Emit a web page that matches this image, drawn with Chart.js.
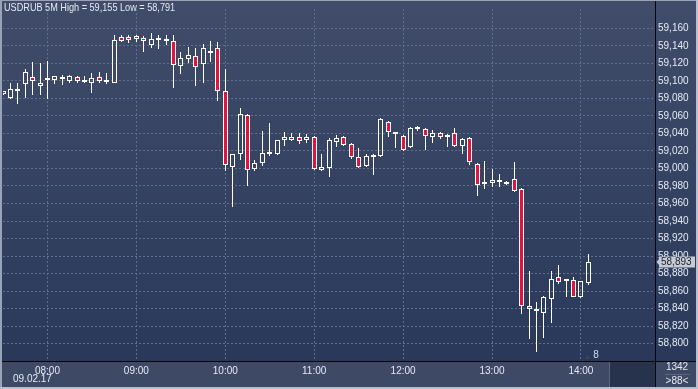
<!DOCTYPE html>
<html><head><meta charset="utf-8">
<script src="https://cdn.jsdelivr.net/npm/chart.js@4.4.1/dist/chart.umd.min.js"></script>
<style>html,body{margin:0;padding:0;background:#2e3c5c;overflow:hidden}#wrap{width:698px;height:389px;position:relative}</style>
</head><body><div id="wrap"><canvas id="c" width="698" height="389"></canvas></div>
<script>
// ---- DATA ----
const times = ['07:30','07:35','07:40','07:45','07:50','07:55',
'08:00','08:05','08:10','08:15','08:20','08:25','08:30','08:35','08:40','08:45','08:50','08:55',
'09:00','09:05','09:10','09:15','09:20','09:25','09:30','09:35','09:40','09:45','09:50','09:55',
'10:00','10:05','10:10','10:15','10:20','10:25','10:30','10:35','10:40','10:45','10:50','10:55',
'11:00','11:05','11:10','11:15','11:20','11:25','11:30','11:35','11:40','11:45','11:50','11:55',
'12:00','12:05','12:10','12:15','12:20','12:25','12:30','12:35','12:40','12:45','12:50','12:55',
'13:00','13:05','13:10','13:15','13:20','13:25','13:30','13:35','13:40','13:45','13:50','13:55',
'14:00','14:05','14:10','14:15','14:20','14:25','14:30','14:35','14:40','14:45','14:50'];
const opens = [59.085,59.080,59.089,59.096,59.104,59.094,59.101,59.101,59.102,59.100,
59.104,59.099,59.097,59.104,59.099,59.098,59.150,59.150,59.148,59.149,
59.141,59.147,59.146,59.145,59.117,59.125,59.128,59.119,59.132,59.137,
59.088,59.002,59.016,59.061,58.999,59.006,59.016,59.016,59.032,59.033,
59.036,59.032,59.036,58.998,59.000,59.030,59.036,59.028,59.013,59.003,
59.013,59.014,59.053,59.039,59.037,59.024,59.045,59.045,59.036,59.040,
59.036,59.040,59.026,59.035,59.005,58.982,58.983,58.985,58.982,58.988,
58.976,58.843,58.840,58.835,58.851,58.876,58.872,58.873,58.853,58.869];
const highs = [59.089,59.097,59.097,59.113,59.122,59.120,59.123,59.106,59.107,59.107,
59.106,59.106,59.109,59.110,59.109,59.152,59.152,59.152,59.152,59.151,
59.155,59.152,59.152,59.152,59.133,59.139,59.137,59.142,59.146,59.144,
59.114,59.017,59.069,59.062,59.010,59.043,59.052,59.032,59.042,59.040,
59.040,59.039,59.037,59.017,59.035,59.038,59.037,59.029,59.023,59.017,
59.016,59.058,59.054,59.040,59.038,59.047,59.049,59.046,59.044,59.042,
59.039,59.046,59.035,59.036,59.006,59.008,58.999,58.994,58.986,59.007,
58.978,58.883,58.847,58.854,58.883,58.890,58.873,58.876,58.872,58.902];
const lows = [59.084,59.079,59.074,59.081,59.084,59.084,59.079,59.096,59.095,59.097,
59.098,59.097,59.086,59.098,59.096,59.097,59.144,59.143,59.144,59.133,
59.138,59.136,59.141,59.092,59.108,59.120,59.094,59.097,59.122,59.077,
58.997,58.956,59.010,58.980,58.997,59.003,59.014,59.015,59.026,59.031,
59.028,59.029,58.998,58.997,58.990,59.025,59.026,59.011,59.001,59.002,
58.992,59.013,59.036,59.023,59.020,59.023,59.043,59.021,59.029,59.034,
59.025,59.025,59.016,59.004,58.968,58.976,58.979,58.979,58.981,58.973,
58.834,58.805,58.791,58.807,58.824,58.868,58.853,58.853,58.852,58.867];
const closes = [59.088,59.091,59.091,59.110,59.100,59.098,59.103,59.105,59.104,59.106,
59.100,59.099,59.103,59.100,59.100,59.147,59.145,59.147,59.151,59.146,
59.148,59.147,59.148,59.118,59.126,59.129,59.116,59.137,59.132,59.089,
59.004,59.017,59.062,58.998,59.006,59.018,59.019,59.032,59.036,59.036,
59.031,59.036,58.999,59.002,59.033,59.035,59.027,59.013,59.002,59.014,
59.013,59.056,59.042,59.039,59.021,59.046,59.045,59.037,59.041,59.036,
59.038,59.026,59.034,59.007,58.981,58.985,58.987,58.985,58.985,58.974,
58.843,58.839,58.837,58.853,58.874,58.870,58.872,58.853,58.871,58.893];
const yTicks = [58.80,58.82,58.84,58.86,58.88,58.90,58.92,58.94,58.96,58.98,59.00,59.02,59.04,59.06,59.08,59.10,59.12,59.14,59.16];
const titleText = 'USDRUB 5M High = 59,155 Low = 58,791';
const dateText = '09.02.17';
const lastPrice = 58.893;
const barsCount = '1342';
const visibleBars = '>88<';
const markerText = '8';

// ---- STYLE ----
const RED = '#e2143e';
const GRID = '#5e6e8f';
const TXT = '#e4eaf3';
const FONT = 'Liberation Sans, Arial, sans-serif';

const hourIdx = times.map((t,i)=>t.endsWith(':00')?i:-1).filter(i=>i>=0);
const bodyData = opens.map((o,i)=>[Math.min(o,closes[i]), Math.max(o,closes[i])]);
const upperWick = opens.map((o,i)=>[Math.max(o,closes[i]), highs[i]]);
const lowerWick = opens.map((o,i)=>[lows[i], Math.min(o,closes[i])]);
const bodyFill = opens.map((o,i)=> closes[i] < o ? RED : 'rgba(0,0,0,0)');
const fmt = v => v.toFixed(3).replace('.', ',');

// snap bar elements (positioned by the library's scales) to whole pixels for crisp candles
const snap = {
  id:'snap',
  beforeDatasetsDraw(chart){
    chart.data.datasets.forEach((ds, di) => {
      const meta = chart.getDatasetMeta(di);
      meta.data.forEach(el => {
        el.x = Math.floor(el.x) + 0.5;
        el.y = Math.round(el.y);
        el.base = Math.round(el.base);
      });
    });
  }
};

const decor = {
  id:'decor',
  beforeDraw(chart){
    const c = chart.ctx, W = chart.width, H = chart.height, ca = chart.chartArea;
    c.save();
    const g = c.createLinearGradient(0,0,0,H);
    g.addColorStop(0,'#404c69'); g.addColorStop(1,'#283759');
    c.fillStyle = g; c.fillRect(0,0,W,H);
    c.fillStyle = '#3e4966'; c.fillRect(0,ca.bottom,W,H-ca.bottom);
    c.fillStyle = '#27324d'; c.fillRect(610,ca.bottom+1,ca.right-610,H-2-ca.bottom-1);
    c.fillStyle = '#5a6580'; c.fillRect(609,ca.bottom+1,1,H-2-ca.bottom-1);
    c.restore();
  },
  afterDraw(chart){
    const c = chart.ctx, W = chart.width, H = chart.height, ca = chart.chartArea;
    const ys = chart.scales.y;
    c.save();
    c.fillStyle = '#05070c';
    c.fillRect(0, Math.round(ca.bottom), W, 1);
    c.fillRect(Math.round(ca.right), 0, 1, H);
    c.fillStyle = '#9aa3b6'; c.fillRect(0,0,2,H); c.fillRect(0,0,W,1);
    c.fillStyle = '#b9c0cc'; c.fillRect(W-2,0,2,H); c.fillRect(0,H-2,W,2);
    c.fillStyle = TXT; c.textBaseline = 'middle'; c.textAlign = 'left';
    c.font = '10.5px ' + FONT;
    c.save(); c.translate(4,8.5); c.scale(0.87,1); c.fillText(titleText,0,0); c.restore();
    c.font = '10px ' + FONT;
    c.fillText(dateText, 13, 379.5);
    const py = Math.round(ys.getPixelForValue(lastPrice));
    c.fillStyle = '#c6cad2';
    c.fillRect(659, py-5.5, 36, 11);
    c.beginPath(); c.moveTo(656.5, py); c.lineTo(659.5, py-3.5); c.lineTo(659.5, py+3.5); c.closePath(); c.fill();
    c.fillStyle = '#1a2132'; c.font = '10px ' + FONT; c.textAlign = 'left';
    c.fillText(fmt(lastPrice), 661, py+0.5);
    c.fillStyle = TXT; c.textAlign = 'center';
    c.fillText(barsCount, 677, 367.5);
    c.fillText(visibleBars, 677, 381);
    c.fillStyle = '#5d667a'; c.fillRect(665, 374, 25, 1);
    c.fillStyle = '#3b4457';
    c.beginPath(); c.moveTo(584.5,359); c.lineTo(587.5,355); c.lineTo(590.5,359); c.closePath(); c.fill();
    c.fillStyle = '#cfdcf0'; c.textAlign = 'center';
    c.fillText(markerText, 596, 355.5);
    c.restore();
  }
};

new Chart(document.getElementById('c'), {
  type:'bar',
  data:{
    labels: times,
    datasets:[
      {label:'body', data: bodyData, backgroundColor: bodyFill, borderColor:'#ffffff', borderWidth:1, borderSkipped:false, barThickness:5, minBarLength:2, inflateAmount:0, grouped:false},
      {label:'upper', data: upperWick, backgroundColor:'#ffffff', borderWidth:0, barThickness:1, inflateAmount:0, grouped:false},
      {label:'lower', data: lowerWick, backgroundColor:'#ffffff', borderWidth:0, barThickness:1, inflateAmount:0, grouped:false}
    ]
  },
  options:{
    responsive:false, animation:false, devicePixelRatio:1,
    layout:{padding:{left:3, top:2, right:2, bottom:2}},
    plugins:{legend:{display:false}, tooltip:{enabled:false}, title:{display:false}},
    scales:{
      x:{type:'category', offset:false,
        grid:{color:GRID, drawTicks:false, tickLength:0, offset:false},
        border:{display:false, dash:[2,2]},
        ticks:{color:TXT, font:{family:FONT, size:10}, maxRotation:0, autoSkip:false, padding:4},
        afterBuildTicks: s => { s.ticks = hourIdx.map(v=>({value:v})); },
        afterFit: s => { s.height = 26; }
      },
      y:{position:'right', min:58.78019, max:59.18205,
        grid:{color:GRID, drawTicks:false, tickLength:0},
        border:{display:false, dash:[2,2]},
        ticks:{color:TXT, font:{family:FONT, size:10}, padding:3, callback: v => fmt(v)},
        afterBuildTicks: s => { s.ticks = yTicks.map(v=>({value:v})); },
        afterFit: s => { s.width = 41; }
      }
    }
  },
  plugins:[snap, decor]
});
</script>
</body></html>
